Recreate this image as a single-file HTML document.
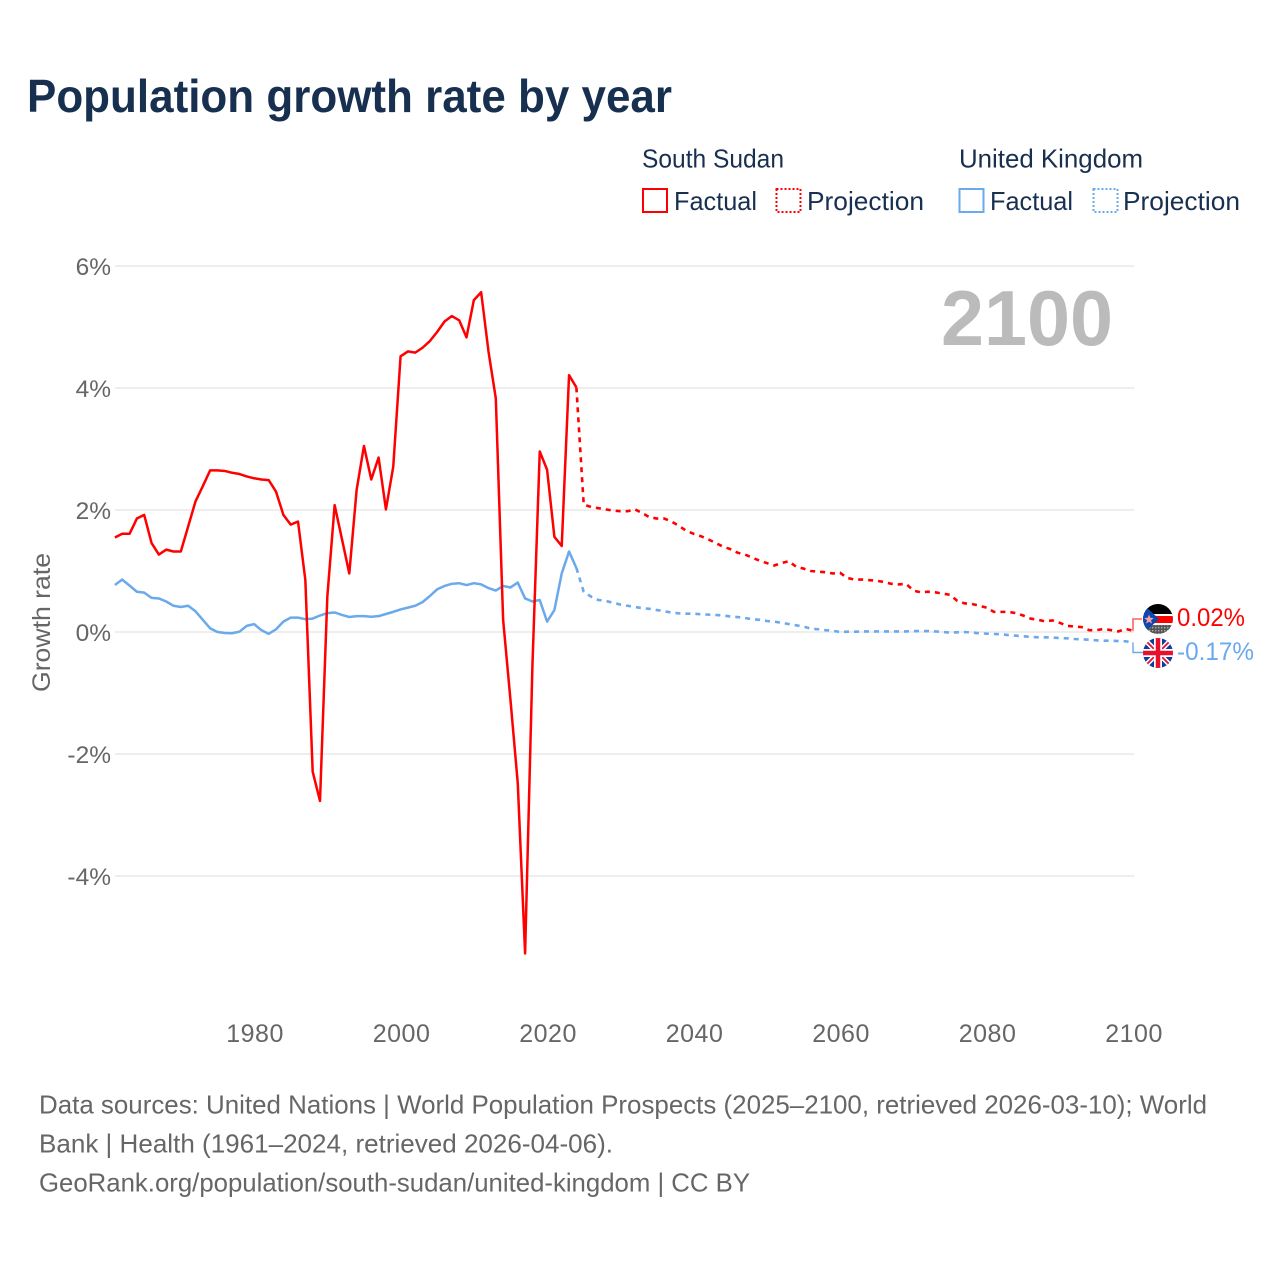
<!DOCTYPE html>
<html lang="en">
<head>
<meta charset="utf-8">
<title>Population growth rate by year</title>
<style>
html,body{margin:0;padding:0;background:#fff;}
svg{display:block;font-family:"Liberation Sans",sans-serif;}
</style>
</head>
<body>
<svg id="chart" xmlns="http://www.w3.org/2000/svg" width="1280" height="1280" viewBox="0 0 1280 1280">
  <defs>
    <clipPath id="flag-clip-ss"><circle cx="1158" cy="619" r="15"/></clipPath>
    <clipPath id="flag-clip-uk"><circle cx="1158" cy="653" r="15"/></clipPath>
    <pattern id="speckle" width="3" height="3" patternUnits="userSpaceOnUse"><rect width="3" height="3" fill="#555"/><rect width="1.4" height="1.4" fill="#aaa"/></pattern>
  </defs>

  <text x="27" y="112" font-size="46" font-weight="700" fill="#18304f" textLength="645" lengthAdjust="spacingAndGlyphs">Population growth rate by year</text>

  <g>
    <text x="642" y="167.500" font-size="26" fill="#18304f" textLength="142" lengthAdjust="spacingAndGlyphs">South Sudan</text>
    <text x="959" y="167.500" font-size="26" fill="#18304f" textLength="184" lengthAdjust="spacingAndGlyphs">United Kingdom</text>

    <rect x="643" y="189" width="24" height="23" fill="none" stroke="#ff0000" stroke-width="2"/>
    <text x="674" y="210" font-size="26" fill="#18304f" textLength="83" lengthAdjust="spacingAndGlyphs">Factual</text>
    <rect x="776.500" y="189" width="24" height="23" fill="none" stroke="#ff0000" stroke-width="2" stroke-dasharray="2 2"/>
    <text x="807" y="210" font-size="26" fill="#18304f" textLength="117" lengthAdjust="spacingAndGlyphs">Projection</text>

    <rect x="959.500" y="189" width="24" height="23" fill="none" stroke="#6aa9ec" stroke-width="2"/>
    <text x="990" y="210" font-size="26" fill="#18304f" textLength="83" lengthAdjust="spacingAndGlyphs">Factual</text>
    <rect x="1093.500" y="189" width="24" height="23" fill="none" stroke="#6aa9ec" stroke-width="2" stroke-dasharray="2 2"/>
    <text x="1123" y="210" font-size="26" fill="#18304f" textLength="117" lengthAdjust="spacingAndGlyphs">Projection</text>
  </g>

  <g id="grid"></g>
  <g id="y-axis"></g>
  <g id="x-axis"></g>

  <text transform="translate(50,692) rotate(-90)" font-size="25" fill="#666666" textLength="139" lengthAdjust="spacingAndGlyphs">Growth rate</text>

  <text x="941" y="345" font-size="78" font-weight="700" fill="#bbbbbb" textLength="172" lengthAdjust="spacingAndGlyphs">2100</text>

  <g id="series"></g>

  <g clip-path="url(#flag-clip-ss)">
    <rect x="1143" y="604" width="30" height="11" fill="#000"/>
    <rect x="1143" y="614" width="30" height="2" fill="#fff"/>
    <rect x="1143" y="616" width="30" height="7" fill="#ff0000"/>
    <rect x="1143" y="623" width="30" height="2" fill="#fff"/>
    <rect x="1143" y="625" width="30" height="10" fill="url(#speckle)"/>
    <polygon points="1143,604 1159,619 1143,634" fill="#0f47af"/>
    <polygon points="1149,614.500 1150.300,617.800 1153.800,618 1151,620.200 1152,623.600 1149,621.700 1146,623.600 1147,620.200 1144.200,618 1147.700,617.800" fill="#f7a1a8"/>
  </g>

  <g clip-path="url(#flag-clip-uk)">
    <rect x="1143" y="638" width="30" height="30" fill="#0a3fa0"/>
    <path d="M1143 638L1173 668M1173 638L1143 668" stroke="#fff" stroke-width="5"/>
    <path d="M1143 638L1173 668M1173 638L1143 668" stroke="#e8112d" stroke-width="1.8"/>
    <path d="M1158 638V668M1143 653H1173" stroke="#fff" stroke-width="8"/>
    <path d="M1158 638V668M1143 653H1173" stroke="#e8112d" stroke-width="4.500"/>
  </g>

  <g id="end-labels"></g>

  <g font-size="26" fill="#666666">
    <text x="39" y="1113.500" textLength="1168" lengthAdjust="spacingAndGlyphs">Data sources: United Nations | World Population Prospects (2025–2100, retrieved 2026-03-10); World</text>
    <text x="39" y="1152.500" textLength="574" lengthAdjust="spacingAndGlyphs">Bank | Health (1961–2024, retrieved 2026-04-06).</text>
    <text x="39" y="1191.500" textLength="711" lengthAdjust="spacingAndGlyphs">GeoRank.org/population/south-sudan/united-kingdom | CC BY</text>
  </g>
</svg>

<script>
const yTicks = [6, 4, 2, 0, -2, -4];
const xTicks = [1980, 2000, 2020, 2040, 2060, 2080, 2100];
const firstYear = 1961;
const lastFactualYear = 2024;

// South Sudan, 1961-2100
const southSudan = [
  1.55,1.61,1.61,1.86,1.92,1.46,1.27,1.35,1.32,1.32,
  1.73,2.14,2.39,2.65,2.65,2.64,2.61,2.59,2.55,2.52,
  2.50,2.49,2.30,1.92,1.76,1.81,0.85,-2.29,-2.77,0.58,
  2.08,1.52,0.96,2.33,3.05,2.50,2.86,2.01,2.71,4.52,
  4.60,4.58,4.66,4.77,4.92,5.09,5.18,5.11,4.83,5.44,
  5.57,4.60,3.83,0.20,-1.11,-2.48,-5.27,-0.55,2.96,2.66,
  1.56,1.41,4.21,4.01,
  2.09,2.05,2.03,2.01,1.99,1.98,1.98,2.01,1.95,1.88,
  1.86,1.86,1.81,1.74,1.66,1.61,1.57,1.52,1.46,1.40,
  1.36,1.30,1.27,1.22,1.17,1.13,1.09,1.13,1.16,1.07,
  1.04,1.00,0.99,0.98,0.96,0.97,0.885,0.86,0.86,0.85,
  0.84,0.82,0.79,0.78,0.79,0.68,0.65,0.66,0.65,0.63,
  0.61,0.51,0.47,0.46,0.43,0.40,0.33,0.33,0.33,0.31,
  0.27,0.22,0.20,0.175,0.19,0.15,0.10,0.09,0.08,0.03,
  0.03,0.05,0.03,0.01,0.05,0.02
];

// United Kingdom, 1961-2100
const unitedKingdom = [
  0.77,0.86,0.76,0.66,0.645,0.56,0.55,0.50,0.43,0.41,
  0.43,0.34,0.20,0.06,0,-0.016,-0.02,0.005,0.10,0.13,
  0.03,-0.03,0.045,0.17,0.235,0.235,0.21,0.22,0.27,0.31,
  0.32,0.28,0.246,0.26,0.26,0.25,0.26,0.295,0.33,0.37,
  0.40,0.43,0.49,0.59,0.70,0.755,0.79,0.80,0.77,0.80,
  0.78,0.72,0.68,0.755,0.73,0.81,0.55,0.50,0.525,0.17,
  0.36,0.96,1.32,1.05,
  0.66,0.58,0.525,0.51,0.48,0.45,0.43,0.41,0.39,0.38,
  0.36,0.34,0.32,0.305,0.30,0.30,0.29,0.285,0.28,0.27,
  0.255,0.245,0.23,0.21,0.20,0.18,0.17,0.15,0.13,0.11,
  0.09,0.055,0.045,0.03,0.02,0,0.005,0.005,0.01,0.01,
  0.01,0.01,0.01,0.01,0.01,0.016,0.016,0.016,0.01,0,
  -0.01,-0.005,0,-0.01,-0.02,-0.027,-0.033,-0.038,-0.05,-0.06,
  -0.07,-0.08,-0.087,-0.087,-0.093,-0.098,-0.104,-0.115,-0.12,-0.126,
  -0.137,-0.142,-0.142,-0.148,-0.153,-0.17
];

const endLabels = ['0.02%', '-0.17%'];

const NS = 'http://www.w3.org/2000/svg';
function x(year) { return 114.9 + (year - firstYear) * 7.325; }
function y(value) { return 632 - value * 61; }
function make(tag, attrs, parent, text) {
  const el = document.createElementNS(NS, tag);
  for (const k in attrs) el.setAttribute(k, attrs[k]);
  if (text !== undefined) el.textContent = text;
  parent.appendChild(el);
  return el;
}
function pathFor(values, fromYear, toYear) {
  let d = '';
  for (let yr = fromYear; yr <= toYear; yr++) {
    const v = values[yr - firstYear];
    d += (d ? 'L' : 'M') + x(yr).toFixed(2) + ' ' + y(v).toFixed(2);
  }
  return d;
}

const gridG = document.getElementById('grid');
const yAxisG = document.getElementById('y-axis');
const xAxisG = document.getElementById('x-axis');
const seriesG = document.getElementById('series');
const endG = document.getElementById('end-labels');

yTicks.forEach(function (t) {
  const line = make('line', { x1: 115, x2: 1134, y1: y(t), y2: y(t), stroke: '#eeeeee', 'stroke-width': 2 }, gridG);
  
  
  const lab = make('text', { x: 111, y: y(t) + 9, 'text-anchor': 'end', 'font-size': 24.5, fill: '#666666' }, yAxisG, t + '%');
  
  
});

xTicks.forEach(function (t) {
  const lab = make('text', { x: x(t) + 1, y: 1042, 'text-anchor': 'middle', 'font-size': 25, 'letter-spacing': 0.5, fill: '#666666' }, xAxisG, String(t));
  
  
});

function drawSeries(values, color, key) {
  const n = values.length;
  const lastYear = firstYear + n - 1;
  const solid = make('path', { d: pathFor(values, firstYear, lastFactualYear), fill: 'none', stroke: color, 'stroke-width': 2.5, 'stroke-linejoin': 'round' }, seriesG);
  
  
  const dashed = make('path', { d: pathFor(values, lastFactualYear, lastYear), fill: 'none', stroke: color, 'stroke-width': 2.6, 'stroke-dasharray': '5 5' }, seriesG);
  
  
}
drawSeries(unitedKingdom, '#6aa9ec', 'united-kingdom');
drawSeries(southSudan, '#ff0000', 'south-sudan');

const ssEnd = y(southSudan[southSudan.length - 1]);
const ukEnd = y(unitedKingdom[unitedKingdom.length - 1]);
const ssConn = make('path', { d: 'M1133 ' + ssEnd.toFixed(1) + 'V619H1142', fill: 'none', stroke: '#ff6060', 'stroke-width': 1.6 }, endG);


const ukConn = make('path', { d: 'M1133 ' + ukEnd.toFixed(1) + 'V652.5H1143', fill: 'none', stroke: '#6aa9ec', 'stroke-width': 1.4 }, endG);


const ssLabel = make('text', { x: 1177, y: 626, 'font-size': 25, fill: '#ff0000', textLength: 68, lengthAdjust: 'spacingAndGlyphs' }, endG, endLabels[0]);


const ukLabel = make('text', { x: 1177, y: 660, 'font-size': 25, fill: '#6aa9ec', textLength: 77, lengthAdjust: 'spacingAndGlyphs' }, endG, endLabels[1]);


</script>
</body>
</html>
